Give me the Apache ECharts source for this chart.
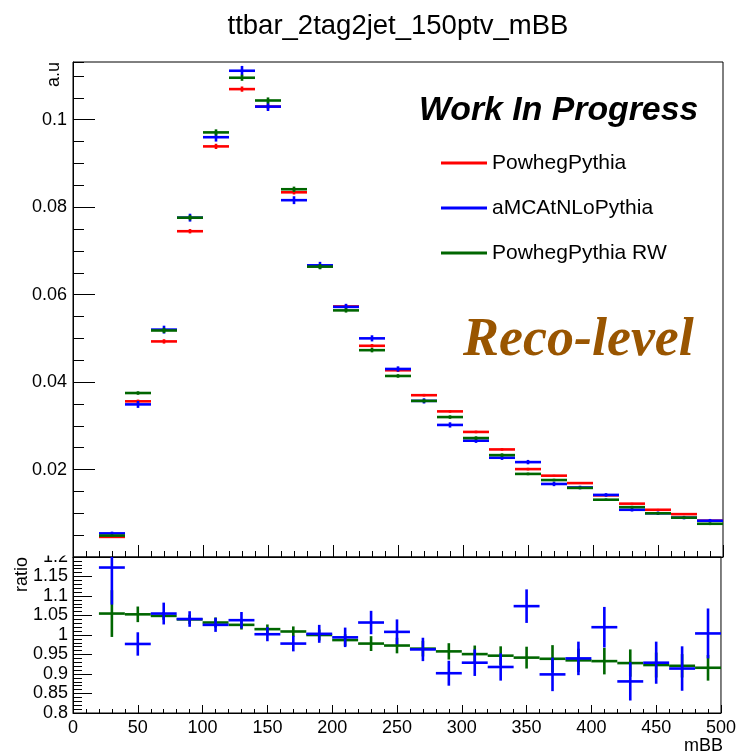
<!DOCTYPE html>
<html>
<head>
<meta charset="utf-8">
<script src="https://cdn.jsdelivr.net/npm/echarts@6/dist/echarts.min.js"></script>
<style>html,body{margin:0;padding:0;background:#fff}#c{width:739px;height:752px}</style>
</head>
<body>
<div id="c"></div>
<script>
// ---- data ----
const binEdges = [20,40,60,80,100,120,140,160,180,200,220,240,260,280,300,320,340,360,380,400,420,440,460,480,500];
const powhegPythia = [0.0046,0.0356,0.0493,0.0745,0.0939,0.1070,0.1030,0.0834,0.0665,0.0573,0.0483,0.0427,0.0370,0.0333,0.0286,0.0246,0.0201,0.0186,0.0169,0.0141,0.0122,0.0108,0.0098,0.0083];
const powhegPythiaErr = [0.0002,0.0004,0.0005,0.0005,0.0006,0.0006,0.0006,0.0005,0.0005,0.0004,0.0004,0.0004,0.0003,0.0003,0.0003,0.0003,0.0003,0.0002,0.0002,0.0002,0.0002,0.0002,0.0002,0.0002];
const aMCAtNLoPythia = [0.0054,0.0349,0.0520,0.0776,0.0960,0.1112,0.1030,0.0816,0.0667,0.0572,0.0500,0.0430,0.0357,0.0302,0.0266,0.0227,0.0217,0.0167,0.0159,0.0142,0.0108,0.0100,0.0090,0.0083];
const aMCAtNLoPythiaErr = [0.0004,0.0008,0.0009,0.0009,0.0010,0.0011,0.0010,0.0009,0.0008,0.0007,0.0007,0.0006,0.0006,0.0006,0.0005,0.0005,0.0005,0.0005,0.0004,0.0004,0.0004,0.0004,0.0004,0.0004];
const powhegPythiaRW = [0.0049,0.0375,0.0518,0.0776,0.0971,0.1096,0.1044,0.0841,0.0664,0.0564,0.0473,0.0414,0.0357,0.0320,0.0272,0.0233,0.0190,0.0176,0.0158,0.0131,0.0114,0.0100,0.0090,0.0076];
const powhegPythiaRWErr = [0.0002,0.0004,0.0006,0.0006,0.0007,0.0007,0.0007,0.0006,0.0006,0.0005,0.0005,0.0004,0.0004,0.0004,0.0004,0.0004,0.0003,0.0003,0.0003,0.0003,0.0003,0.0003,0.0003,0.0003];
const ratioAMC = [1.173,0.977,1.055,1.041,1.026,1.038,1.002,0.978,1.003,0.994,1.032,1.008,0.963,0.902,0.929,0.918,1.074,0.899,0.940,1.020,0.881,0.929,0.914,1.004];
const ratioAMCErr = [0.095,0.030,0.028,0.020,0.018,0.021,0.018,0.020,0.023,0.025,0.030,0.032,0.030,0.032,0.034,0.035,0.043,0.043,0.043,0.052,0.049,0.054,0.057,0.064];
const ratioRW = [1.055,1.053,1.049,1.040,1.032,1.026,1.015,1.009,1.000,0.987,0.978,0.973,0.965,0.958,0.951,0.947,0.942,0.939,0.935,0.933,0.928,0.923,0.921,0.916];
const ratioRWErr = [0.060,0.020,0.010,0.012,0.013,0.012,0.012,0.013,0.014,0.015,0.019,0.020,0.020,0.021,0.022,0.024,0.028,0.035,0.030,0.034,0.035,0.032,0.030,0.033];
const yTopTicks = [0.02,0.04,0.06,0.08,0.1];
const ratioTicks = [0.8,0.85,0.9,0.95,1,1.05,1.1,1.15,1.2];
const xTicks = [0,50,100,150,200,250,300,350,400,450,500];

const titleText = 'ttbar_2tag2jet_150ptv_mBB';
const RED = '#ff0000', BLUE = '#0000ff', GREEN = '#006600';
const FONT = '"Liberation Sans", Helvetica, Arial, sans-serif';

function mkData(vals, errs) {
  return vals.map((v, i) => [binEdges[i], binEdges[i+1], v, errs[i]]);
}

function renderErr(color, lw) {
  return function (params, api) {
    const lo = api.value(0), hi = api.value(1), y = api.value(2), e = api.value(3);
    const xc = (lo + hi) / 2;
    const cs = params.coordSys;
    const clampY = (py) => Math.max(cs.y, Math.min(cs.y + cs.height, py));
    const pL = api.coord([lo, y]);
    const pR = api.coord([hi, y]);
    const pT = api.coord([xc, y + e]);
    const pB = api.coord([xc, y - e]);
    const children = [];
    if (pL[1] >= cs.y && pL[1] <= cs.y + cs.height) {
      children.push({type: 'line', shape: {x1: pL[0], y1: pL[1], x2: pR[0], y2: pR[1]}, style: {stroke: color, lineWidth: lw}});
    }
    children.push({type: 'line', shape: {x1: pT[0], y1: clampY(pT[1]), x2: pB[0], y2: clampY(pB[1])}, style: {stroke: color, lineWidth: lw}});
    return {type: 'group', children: children};
  };
}

const chart = echarts.init(document.getElementById('c'), null, {renderer: 'canvas'});

const G0 = {left: 73, right: 16, top: 62, height: 495};
const G1 = {left: 73, right: 16, top: 557, height: 156};

const option = {
  backgroundColor: '#fff',
  animation: false,
  grid: [
    Object.assign({show: true, borderColor: '#000', borderWidth: 1, backgroundColor: 'transparent'}, G0),
    Object.assign({show: true, borderColor: '#000', borderWidth: 1, backgroundColor: 'transparent'}, G1)
  ],
  legend: {
    data: ['PowhegPythia', 'aMCAtNLoPythia', 'PowhegPythia RW'],
    orient: 'vertical',
    left: 436, top: 144,
    icon: 'rect', itemWidth: 46, itemHeight: 3, itemGap: 17,
    textStyle: {fontFamily: FONT, fontSize: 21, color: '#000', lineHeight: 25, padding: [3, 0, 0, 0]},
    selectedMode: false
  },
  xAxis: [
    {type: 'value', gridIndex: 0, min: 0, max: 500, interval: 50,
     axisLine: {show: true, onZero: false, lineStyle: {color: '#000'}},
     axisTick: {show: true, inside: true, length: 12, lineStyle: {color: '#000'}},
     minorTick: {show: true, splitNumber: 5, length: 6, lineStyle: {color: '#000'}},
     axisLabel: {show: false}, splitLine: {show: false}},
    {type: 'value', gridIndex: 1, min: 0, max: 500, interval: 50,
     axisLine: {show: true, onZero: false, lineStyle: {color: '#000'}},
     axisTick: {show: true, inside: true, length: 8, lineStyle: {color: '#000'}},
     minorTick: {show: true, splitNumber: 5, length: 4, lineStyle: {color: '#000'}},
     axisLabel: {show: true, showMinLabel: true, showMaxLabel: true, margin: 6, fontFamily: FONT, fontSize: 18, color: '#000',
       customValues: xTicks, formatter: v => String(v)},
     splitLine: {show: false}}
  ],
  yAxis: [
    {type: 'value', gridIndex: 0, min: 0, max: 0.1132, interval: 0.02,
     axisLine: {show: true, onZero: false, lineStyle: {color: '#000'}},
     axisTick: {show: true, inside: true, length: 22, lineStyle: {color: '#000'}, customValues: yTopTicks},
     axisLabel: {show: true, margin: 6, fontFamily: FONT, fontSize: 18, color: '#000', customValues: yTopTicks,
       formatter: v => String(+v.toFixed(3))},
     splitLine: {show: false}},
    {type: 'value', gridIndex: 0, min: 0, max: 0.1132, interval: 0.005, position: 'left',
     axisLine: {show: false},
     axisTick: {show: true, inside: true, length: 11, lineStyle: {color: '#000'}},
     axisLabel: {show: false}, splitLine: {show: false}},
    {type: 'value', gridIndex: 1, min: 0.8, max: 1.2, interval: 0.05,
     axisLine: {show: true, onZero: false, lineStyle: {color: '#000'}},
     axisTick: {show: true, inside: true, length: 19, lineStyle: {color: '#000'}},
     minorTick: {show: true, splitNumber: 5, length: 9, lineStyle: {color: '#000'}},
     axisLabel: {show: true, showMinLabel: true, showMaxLabel: true, margin: 5, fontFamily: FONT, fontSize: 18, color: '#000',
       customValues: ratioTicks, formatter: v => String(+v.toFixed(2))},
     splitLine: {show: false}}
  ],
  series: [
    {type: 'custom', name: 'PowhegPythia', xAxisIndex: 0, yAxisIndex: 0, itemStyle: {color: RED},
     renderItem: renderErr(RED, 2.6), data: mkData(powhegPythia, powhegPythiaErr), encode: {x: [0, 1], y: 2}, z: 3},
    {type: 'custom', name: 'aMCAtNLoPythia', xAxisIndex: 0, yAxisIndex: 0, itemStyle: {color: BLUE},
     renderItem: renderErr(BLUE, 2.6), data: mkData(aMCAtNLoPythia, aMCAtNLoPythiaErr), encode: {x: [0, 1], y: 2}, z: 4},
    {type: 'custom', name: 'PowhegPythia RW', xAxisIndex: 0, yAxisIndex: 0, itemStyle: {color: GREEN},
     renderItem: renderErr(GREEN, 2.6), data: mkData(powhegPythiaRW, powhegPythiaRWErr), encode: {x: [0, 1], y: 2}, z: 5},
    {type: 'custom', name: 'RW / PowhegPythia', xAxisIndex: 1, yAxisIndex: 2, itemStyle: {color: GREEN},
     renderItem: renderErr(GREEN, 2.6), data: mkData(ratioRW, ratioRWErr), encode: {x: [0, 1], y: 2}, z: 3},
    {type: 'custom', name: 'aMCAtNLo / PowhegPythia', xAxisIndex: 1, yAxisIndex: 2, itemStyle: {color: BLUE},
     renderItem: renderErr(BLUE, 2.6), data: mkData(ratioAMC, ratioAMCErr), encode: {x: [0, 1], y: 2}, z: 4}
  ],
  graphic: [
    {type: 'text', x: 398, y: 26, z: 10, style: {text: titleText, fontFamily: FONT, fontSize: 27.5, fill: '#000', align: 'center', verticalAlign: 'middle'}},
    {type: 'text', x: 54, y: 62, rotation: Math.PI / 2, z: 10, style: {text: 'a.u', fontFamily: FONT, fontSize: 18, fill: '#000', align: 'right', verticalAlign: 'middle'}},
    {type: 'text', x: 22, y: 557, rotation: Math.PI / 2, z: 10, style: {text: 'ratio', fontFamily: FONT, fontSize: 18, fill: '#000', align: 'right', verticalAlign: 'middle'}},
    {type: 'text', x: 723, y: 746, z: 10, style: {text: 'mBB', fontFamily: FONT, fontSize: 18, fill: '#000', align: 'right', verticalAlign: 'middle'}},
    {type: 'text', x: 419, y: 111, z: 10, style: {text: 'Work In Progress', fontFamily: FONT, fontSize: 33.8, fontWeight: 'bold', fontStyle: 'italic', fill: '#000', align: 'left', verticalAlign: 'middle'}},
    {type: 'text', x: 463, y: 341, z: 10, style: {text: 'Reco-level', fontFamily: '"Liberation Serif", "DejaVu Serif", serif', fontSize: 54, fontWeight: 'bold', fontStyle: 'italic', fill: '#995500', align: 'left', verticalAlign: 'middle'}},
    {type: 'rect', shape: {x: 0, y: 540, width: 70, height: 15.5}, style: {fill: '#fff'}, z: 100}
  ]
};
chart.setOption(option);
</script>
</body>
</html>
